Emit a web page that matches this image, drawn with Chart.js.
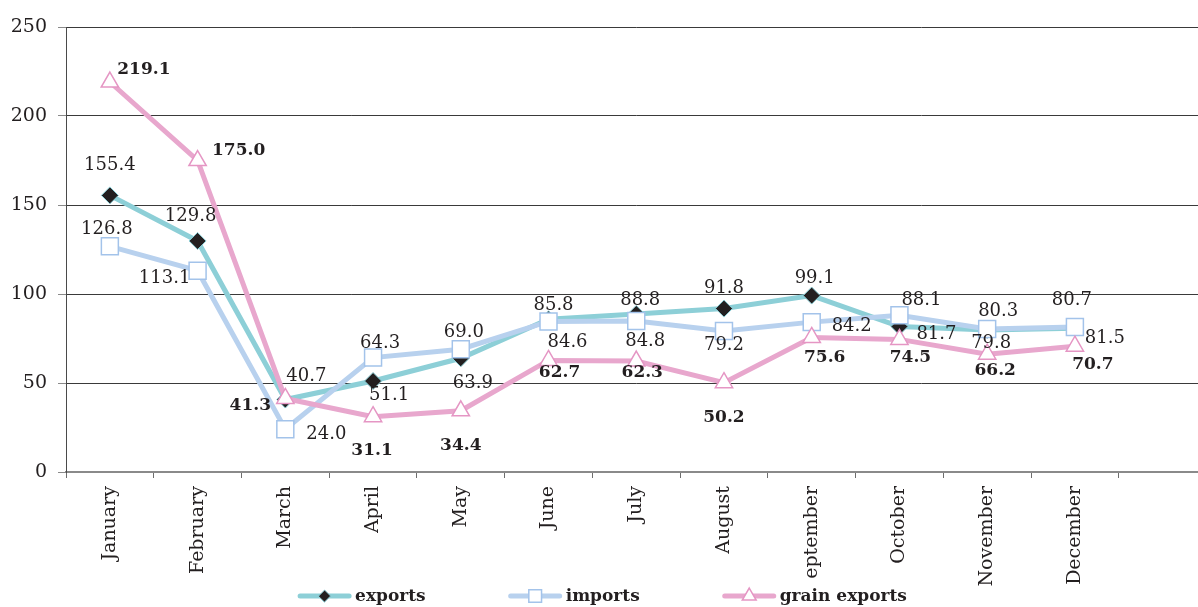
<!DOCTYPE html>
<html>
<head>
<meta charset="utf-8">
<script src="https://cdn.jsdelivr.net/npm/chart.js@4.4.1/dist/chart.umd.min.js"></script>
<style>
    html, body { margin: 0; padding: 0; background: #fff; overflow: hidden; }
    #chart { display: block; }
</style>
</head>
<body>
<canvas id="chart" width="1220" height="607" style="width:1220px;height:607px"></canvas>
<script>
// months (last slot is empty, the axis runs on past December)
const months = ["January", "February", "March", "April", "May", "June", "July",
    "August", "eptember", "October", "November", "December", ""];
const exportsData = [155.4, 129.8, 40.7, 51.1, 63.9, 85.8, 88.8, 91.8, 99.1, 81.7, 79.8, 80.7];
const importsData = [126.8, 113.1, 24.0, 64.3, 69.0, 84.6, 84.8, 79.2, 84.2, 88.1, 80.3, 81.5];
const grainData = [219.1, 175.0, 41.3, 31.1, 34.4, 62.7, 62.3, 50.2, 75.6, 74.5, 66.2, 70.7];
const yTicks = [0, 50, 100, 150, 200, 250];

// where each value label sits relative to its point (dx, dy)
const exportsLabelPos = [[0, -30], [-7, -25], [21, -23], [16, 14], [12, 25], [5, -14],
    [4, -14], [0, -20], [3, -17], [37, 8], [4, 13], [-3, -28]];
const importsLabelPos = [[-3, -17], [-33, 8], [41, 5], [7, -14], [3, -17], [19, 21],
    [9, 20], [0, 14], [40, 4], [22, -15], [11, -18], [30, 11]];
const grainLabelPos = [[34, -12], [41, -10], [-35, 7], [-1, 34], [0, 35], [11, 12],
    [6, 11], [0, 35], [13, 20], [11, 18], [8, 16], [18, 18]];

const serif = "'DejaVu Serif', serif";
const textColor = "#231f20";

const valueLabels = {
    id: "valueLabels",
    afterDatasetsDraw(chart) {
        const ctx = chart.ctx;
        ctx.save();
        ctx.textAlign = "center";
        ctx.textBaseline = "middle";
        ctx.fillStyle = textColor;
        chart.data.datasets.forEach((ds, i) => {
            const meta = chart.getDatasetMeta(i);
            ctx.font = ds.labelBold ? "bold 17px " + serif : "18px " + serif;
            meta.data.forEach((pt, j) => {
                const off = ds.labelPos[j];
                ctx.fillText(ds.data[j].toFixed(1), pt.x + off[0], pt.y + off[1]);
            });
        });
        ctx.restore();
    },
};

// legend at the bottom: a short line with the marker on it, then bold text
const bottomLegend = {
    id: "bottomLegend",
    afterDraw(chart) {
        const ctx = chart.ctx;
        const y = 596;
        const lineW = 55;
        const gap = 82;
        ctx.save();
        ctx.font = "bold 17px " + serif;
        const items = chart.data.datasets.map((ds) => ({
            ds: ds,
            w: lineW + 3 + ctx.measureText(ds.label).width,
        }));
        const total = items.reduce((acc, it) => acc + it.w, 0) + gap * (items.length - 1);
        let x = 602 - total / 2;
        items.forEach((it) => {
            const ds = it.ds;
            ctx.strokeStyle = ds.borderColor;
            ctx.lineWidth = 5;
            ctx.lineCap = "round";
            ctx.beginPath();
            ctx.moveTo(x + 3, y);
            ctx.lineTo(x + lineW - 3, y);
            ctx.stroke();

            ctx.fillStyle = ds.pointBackgroundColor;
            ctx.strokeStyle = ds.pointBorderColor;
            ctx.lineWidth = ds.pointBorderWidth;
            Chart.helpers.drawPoint(ctx, {
                pointStyle: ds.pointStyle,
                radius: ds.legendRadius,
                rotation: 0,
                borderWidth: ds.pointBorderWidth,
            }, x + lineW / 2, y);

            ctx.fillStyle = textColor;
            ctx.textAlign = "left";
            ctx.textBaseline = "middle";
            ctx.fillText(ds.label, x + lineW + 3, y + 1);
            x += it.w + gap;
        });
        ctx.restore();
    },
};

const ctx = document.getElementById("chart").getContext("2d");
const chart = new Chart(ctx, {
    type: "line",
    data: {
        labels: months,
        datasets: [
            {
                label: "exports",
                data: exportsData,
                borderColor: "#8dcfd7",
                borderWidth: 5,
                pointStyle: "rectRot",
                pointRadius: 8.5,
                legendRadius: 6,
                pointBackgroundColor: "#231f20",
                pointBorderColor: "#8dcfd7",
                pointBorderWidth: 1,
                labelPos: exportsLabelPos,
                labelBold: false,
                order: 3,
            },
            {
                label: "imports",
                data: importsData,
                borderColor: "#b8d1ee",
                borderWidth: 5,
                pointStyle: "rect",
                pointRadius: 12,
                legendRadius: 9,
                pointBackgroundColor: "#ffffff",
                pointBorderColor: "#a3c3ea",
                pointBorderWidth: 1.5,
                labelPos: importsLabelPos,
                labelBold: false,
                order: 2,
            },
            {
                label: "grain exports",
                data: grainData,
                borderColor: "#e8a7cd",
                borderWidth: 5,
                pointStyle: "triangle",
                pointRadius: 10,
                legendRadius: 8,
                pointBackgroundColor: "#ffffff",
                pointBorderColor: "#e596c4",
                pointBorderWidth: 1.5,
                labelPos: grainLabelPos,
                labelBold: true,
                order: 1,
            },
        ],
    },
    options: {
        responsive: false,
        animation: false,
        devicePixelRatio: 1,
        layout: { padding: { top: 27, left: 0, right: 6, bottom: 10 } },
        elements: { line: { tension: 0 } },
        plugins: {
            legend: { display: false },
            tooltip: { enabled: false },
        },
        scales: {
            x: {
                offset: true,
                grid: {
                    offset: true,
                    drawOnChartArea: false,
                    drawTicks: true,
                    tickLength: 6,
                    tickColor: "#6d6d6d",
                },
                border: { color: "#8a8a8a", width: 2 },
                ticks: {
                    autoSkip: false,
                    minRotation: 90,
                    maxRotation: 90,
                    padding: 8,
                    color: textColor,
                    font: { family: serif, size: 19 },
                },
                // labels are clipped to the scale box, so keep it tall enough
                afterFit(scale) {
                    scale.height = 125;
                },
            },
            y: {
                min: 0,
                max: 250,
                afterBuildTicks(scale) {
                    scale.ticks = yTicks.map((v) => ({ value: v }));
                },
                grid: {
                    color: "#3a3a3a",
                    lineWidth: 1,
                    borderDash: [1, 1],
                    tickLength: 8,
                    tickColor: "#8a8a8a",
                    tickBorderDash: [],
                },
                border: { color: "#4a4a4a", width: 1 },
                ticks: {
                    padding: 11,
                    color: textColor,
                    font: { family: serif, size: 19 },
                },
                afterFit(scale) {
                    scale.width = 66;
                },
            },
        },
    },
    plugins: [valueLabels, bottomLegend],
});
</script>
</body>
</html>
